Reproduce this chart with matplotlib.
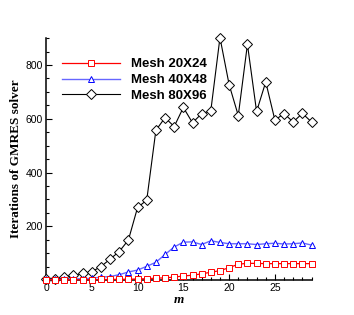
import numpy as np
import matplotlib.pyplot as plt
from matplotlib.ticker import MultipleLocator

m = np.arange(0, 30)

mesh_20x24 = [1, 1, 1, 1, 1, 1, 2, 2, 3, 3, 4, 5, 7, 8, 11, 15, 18, 23, 29, 35,
              46, 59, 62, 62, 61, 61, 61, 61, 61, 61]
mesh_40x48 = [2, 2, 3, 4, 5, 6, 11, 13, 20, 30, 37, 51, 66, 95, 123, 141, 142, 132, 146, 140,
              135, 135, 135, 132, 135, 137, 134, 135, 138, 130]
mesh_80x96 = [2, 5, 10, 17, 25, 31, 50, 78, 106, 149, 270, 297, 557, 604, 571, 642, 585, 619, 630, 902,
              727, 612, 877, 627, 737, 595, 619, 588, 620, 588]

labels = ['Mesh 20X24', 'Mesh 40X48', 'Mesh 80X96']

fig = plt.figure(figsize=(3.54, 3.15), dpi=100)
ax = fig.add_axes([0.130, 0.111, 0.750, 0.768])

# Plot curves (markers drawn past the axes edges like the original)
l3, = ax.plot(m, mesh_80x96, color='black', linewidth=0.8, marker='D', markersize=4.8,
              markerfacecolor='white', markeredgecolor='black', markeredgewidth=0.7,
              clip_on=False, zorder=3)
l2, = ax.plot(m, mesh_40x48, color='#6666ff', linewidth=1.0, marker='^', markersize=5,
              markerfacecolor='white', markeredgecolor='blue', markeredgewidth=0.7,
              clip_on=False, zorder=4)
l1, = ax.plot(m, mesh_20x24, color='red', linewidth=0.9, marker='s', markersize=4,
              markerfacecolor='white', markeredgecolor='red', markeredgewidth=0.7,
              clip_on=False, zorder=5)

# Axis limits and ticks
ax.set_xlim(0, 29)
ax.set_ylim(0, 900)
ax.set_xticks(np.arange(0, 30, 5))
ax.set_yticks(np.arange(200, 900, 200))
ax.xaxis.set_minor_locator(MultipleLocator(1))
ax.yaxis.set_minor_locator(MultipleLocator(50))
ax.tick_params(which='both', direction='in', top=False, right=False,
               labelsize=7.5, pad=2, width=0.8)
ax.tick_params(which='major', length=4)
ax.tick_params(which='minor', length=2.2)
for lab in ax.get_xticklabels() + ax.get_yticklabels():
    lab.set_family('Liberation Sans')

ax.spines['top'].set_visible(False)
ax.spines['right'].set_visible(False)
ax.spines['left'].set_linewidth(1.1)
ax.spines['bottom'].set_linewidth(1.1)

# Labels
ax.set_xlabel('m', family='Liberation Serif', style='italic', fontweight='bold',
              fontsize=9.5, labelpad=1)
ax.set_ylabel('Iterations of GMRES solver', family='Liberation Serif', fontweight='bold',
              fontsize=9.5, labelpad=3)

# Legend
leg = ax.legend([l1, l2, l3], labels, loc='upper left', frameon=False,
                bbox_to_anchor=(62 / 354, 1 - 58 / 315), bbox_transform=fig.transFigure,
                borderpad=0, borderaxespad=0, handlelength=4.4, handletextpad=0.8,
                labelspacing=0.28, prop={'family': 'Liberation Sans', 'weight': 'bold', 'size': 9.5})

fig.savefig('out.png', dpi=100)
